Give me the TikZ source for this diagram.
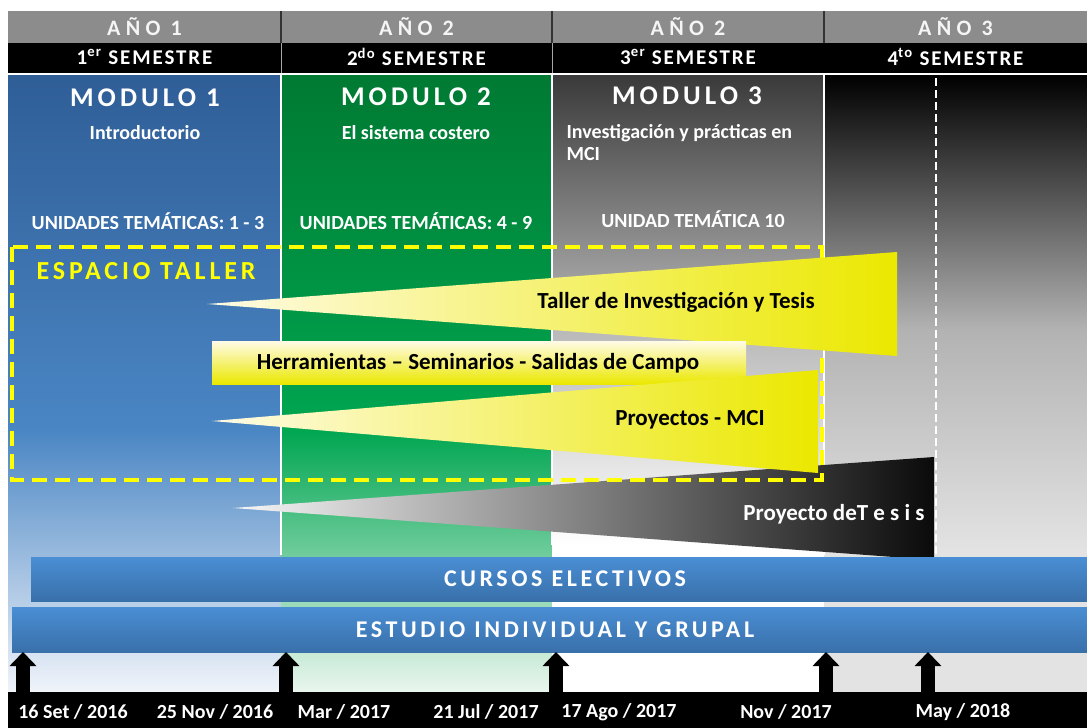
\documentclass[tikz,border=0pt]{standalone}
\usepackage{fontspec}
\setmainfont{Carlito}
\newfontfamily\anchoA[LetterSpace=24]{Carlito}
\newfontfamily\anchoB[LetterSpace=15]{Carlito}
\newfontfamily\anchoC[LetterSpace=9]{Carlito}
\usetikzlibrary{calc}
\usetikzlibrary{arrows.meta}

\definecolor{grisH}{HTML}{8C8C8C}
\definecolor{azulA}{HTML}{2F5E97}
\definecolor{azulB}{HTML}{4A86C4}
\definecolor{azulC}{HTML}{F0F4FA}
\definecolor{verdeA}{HTML}{007A33}
\definecolor{verdeB}{HTML}{00A651}
\definecolor{verdeC}{HTML}{EAF6EE}
\definecolor{grisA}{HTML}{3A3A3A}
\definecolor{grisB}{HTML}{E3E3E3}
\definecolor{amarA}{HTML}{FFFBE6}
\definecolor{amarB}{HTML}{EBE800}
\definecolor{azulD}{HTML}{4A8ED4}
\definecolor{azulE}{HTML}{3970AA}
\definecolor{amarT}{HTML}{FFFF00}

\tikzset{
 anio/.style={text=gray!8, font=\anchoA\bfseries\fontsize{22}{26}\selectfont},
 semestre/.style={text=white, font=\anchoC\bfseries\fontsize{21}{25}\selectfont},
 modulo/.style={text=white, font=\anchoB\bfseries\fontsize{27}{32}\selectfont},
 subtit/.style={text=white, font=\bfseries\fontsize{20}{22}\selectfont},
 cuna/.style={text=black, font=\bfseries\fontsize{23}{27}\selectfont},
 barra/.style={text=white, font=\anchoB\bfseries\fontsize{24}{28}\selectfont},
 fecha/.style={text=white, font=\bfseries\fontsize{20}{24}\selectfont},
}

\begin{document}
\begin{tikzpicture}[x=1pt,y=-1pt]
\useasboundingbox (0,0) rectangle (1087,728);
\fill[white] (0,0) rectangle (1087,728);

\shade[top color=azulA, bottom color=azulB] (8,75) rectangle (281,430);
\shade[top color=azulB, bottom color=azulC] (8,430) rectangle (281,692);
\shade[top color=verdeA, bottom color=verdeB] (281,75) rectangle (552,430);
\shade[top color=verdeB, bottom color=verdeC] (281,430) rectangle (552,692);
\shade[top color=grisA, bottom color=gray!55] (552,75) rectangle (824,330);
\shade[top color=gray!55, bottom color=white] (552,330) rectangle (824,545);
\fill[white] (552,545) rectangle (824,692);
\shade[top color=black, bottom color=gray!60] (824,75) rectangle (1087,330);
\shade[top color=gray!60, bottom color=grisB] (824,330) rectangle (1087,552);
\fill[grisB] (824,552) rectangle (1087,692);
\draw[white, line width=1.5] (281,75) -- (281,555) (552,75) -- (552,545) (824,75) -- (824,555);
\draw[white, line width=1.5, dash pattern=on 8pt off 4pt] (936,78) -- (936,555);

\fill[grisH] (8,11) rectangle (1087,43);
\fill[black] (8,43) rectangle (1087,73);
\foreach \x in {281,552,824} \draw[black!80, line width=1.2] (\x,11) -- (\x,43);
\foreach \x in {281,552} \draw[gray!70, line width=.8] (\x,43) -- (\x,73);
\foreach \i/\xa/\xb/\an/\sm in {1/8/281/1/{1\textsuperscript{er}},2/281/552/2/{2\textsuperscript{do}},3/552/824/2/{3\textsuperscript{er}},4/824/1087/3/{4\textsuperscript{to}}} {
 \node[anio] (anio\i) at ({(\xa+\xb)/2},27) {AÑO \an};
 \node[semestre] (sem\i) at ({(\xa+\xb)/2},57) {\sm\ SEMESTRE};
}

\node[modulo] (mod1) at (145,98) {MODULO 1};
\node[subtit] (tit1) at (145,133) {Introductorio};
\node[subtit] (uni1) at (148,221) {UNIDADES TEMÁTICAS: 1 - 3};
\node[modulo] (mod2) at (416,97) {MODULO 2};
\node[subtit] (tit2) at (416,133) {El sistema costero};
\node[subtit] (uni2) at (416,221) {UNIDADES TEMÁTICAS: 4 - 9};
\node[modulo] (mod3) at (687,96) {MODULO 3};
\node[subtit, anchor=west, align=left] (tit3) at (563,143) {Investigación y prácticas en\\MCI};
\node[subtit] (uni3) at (693,219) {UNIDAD TEMÁTICA 10};

\shade[left color=gray!6, right color=black!96] (233,508) -- (934,457) -- (934,560) -- cycle;
\node[text=white, font=\bfseries\fontsize{23}{27}\selectfont] (tesis) at (834,514) {Proyecto deT e s i s};

\draw[amarT, line width=4.5, dash pattern=on 15pt off 8pt] (12,247) rectangle (822,480);
\node[anchor=west, text=amarT, font=\anchoB\bfseries\fontsize{26}{30}\selectfont] (taller) at (33,271) {ESPACIO TALLER};

\shade[left color=amarA, right color=amarB] (207,304) -- (897,252) -- (897,356) -- cycle;
\node[cuna] (invest) at (676,302) {Taller de Investigación y Tesis};
\shade[top color=amarA, bottom color=amarB] (212,341) rectangle (746,384);
\node[cuna] (herram) at (478,363) {Herramientas – Seminarios - Salidas de Campo};
\shade[left color=amarA, right color=amarB] (212,421) -- (818,370) -- (818,473) -- cycle;
\node[cuna] (proy) at (690,420) {Proyectos - MCI};

\shade[top color=azulD, bottom color=azulE] (31,557) rectangle (1087,601);
\node[barra] (cursos) at (565,579) {CURSOS ELECTIVOS};
\shade[top color=azulD, bottom color=azulE] (12,607) rectangle (1087,652);
\node[barra] (estudio) at (555,630) {ESTUDIO INDIVIDUAL Y GRUPAL};

\fill[black] (8,692) rectangle (1087,728);
\foreach \x/\t [count=\i] in {73/{16 Set /\ 2016},215/{25 Nov / 2016},344/{Mar /\ 2017},486/{21 Jul / 2017},619/{17 Ago / 2017},786/{Nov / 2017},963/{May / 2018}}
 \node[fecha] (fecha\i) at (\x,712) {\t};
\foreach \x [count=\i] in {23,286,556,826,928} {
 \coordinate (base\i) at (\x,692);
 \coordinate (punta\i) at (\x,652);
 \draw[line width=14, -{Triangle[width=26pt,length=14pt]}] (base\i) -- (punta\i);
}
\end{tikzpicture}
\end{document}
